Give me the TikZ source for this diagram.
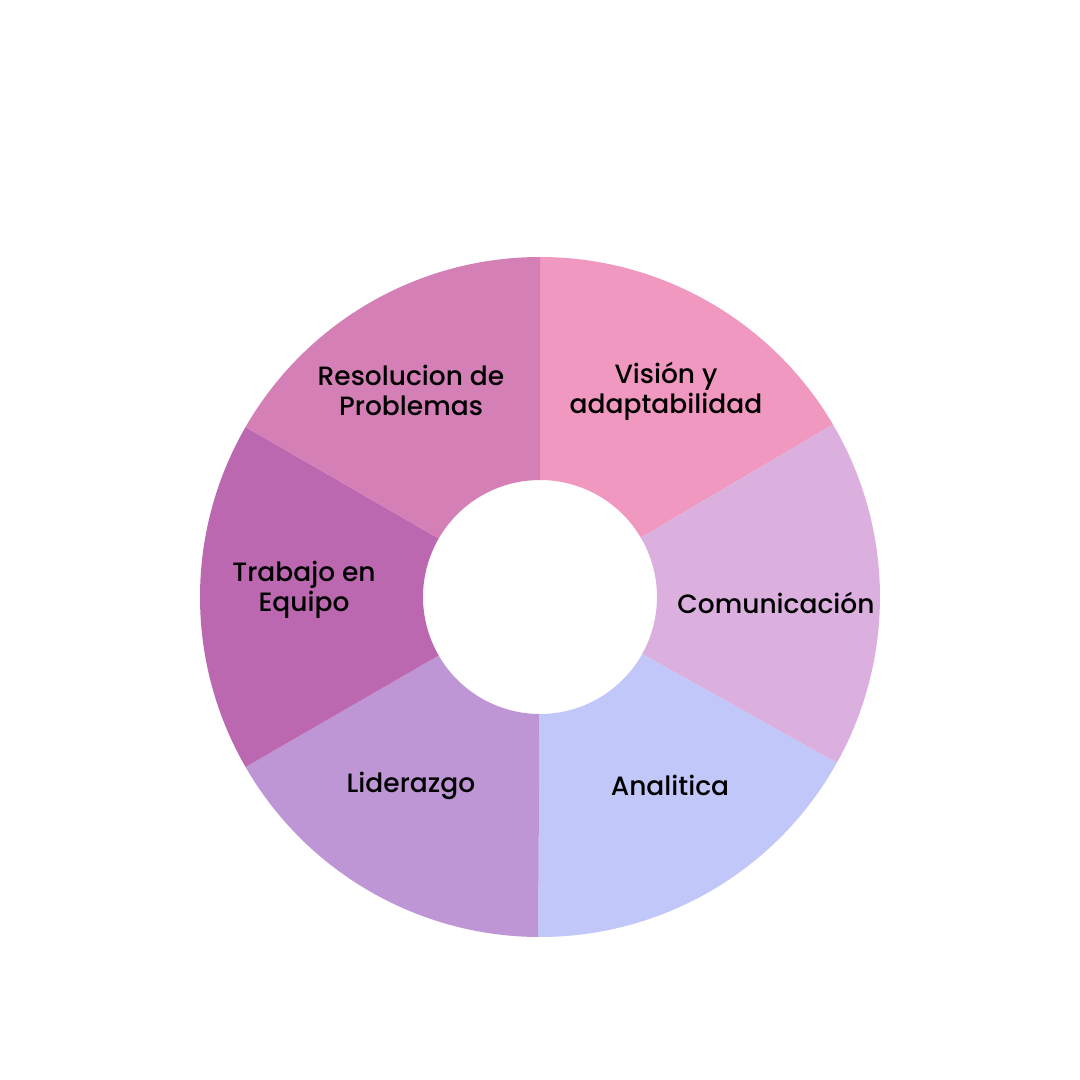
\documentclass[tikz,border=0pt]{standalone}
\usepackage{fontspec}
\usetikzlibrary{calc}
\setmainfont{Poppins Medium}
\definecolor{cVision}{HTML}{F098BF}
\definecolor{cComun}{HTML}{DBB0DF}
\definecolor{cAnal}{HTML}{C1C8F9}
\definecolor{cLider}{HTML}{BF96D5}
\definecolor{cTrab}{HTML}{BB68B0}
\definecolor{cResol}{HTML}{D47FB6}
\tikzset{
  sector/.style={draw=none},
  lbl/.style={align=center, text=black, font=\fontsize{26.5}{30}\selectfont, inner sep=0pt}
}
\begin{document}
\begin{tikzpicture}[x=1pt,y=-1pt]
\useasboundingbox (0,0) rectangle (1080,1080);
\fill[white] (0,0) rectangle (1080,1080);
\coordinate (c) at (540,597);
% ring sectors (outer radius 340, inner radius 117), angles measured counter-clockwise
\def\ro{340}\def\ri{117}
\foreach \a/\b/\col in {30.5/90/cVision, -29.2/30.5/cComun, -90.3/-29.2/cAnal,
                        -150/-90.3/cLider, -210/-150/cTrab, -270/-210/cResol}{
  \fill[\col, sector] ($(c)+(\a:\ro pt)$) arc[start angle=-\a, end angle=-\b, radius=\ro]
        -- ($(c)+(\b:\ri pt)$) arc[start angle=-\b, end angle=-\a, radius=\ri] -- cycle;
}
\node[lbl] (vision) at (666,391) {Visión y\\adaptabilidad};
\node[lbl] (comun) at (776,603) {Comunicación};
\node[lbl] (anal) at (670,785) {Analitica};
\node[lbl] (lider) at (411,786) {Liderazgo};
\node[lbl] (trab) at (304,590) {Trabajo en\\Equipo};
\node[lbl] (resol) at (411,390) {Resolucion de\\Problemas};
\end{tikzpicture}
\end{document}
